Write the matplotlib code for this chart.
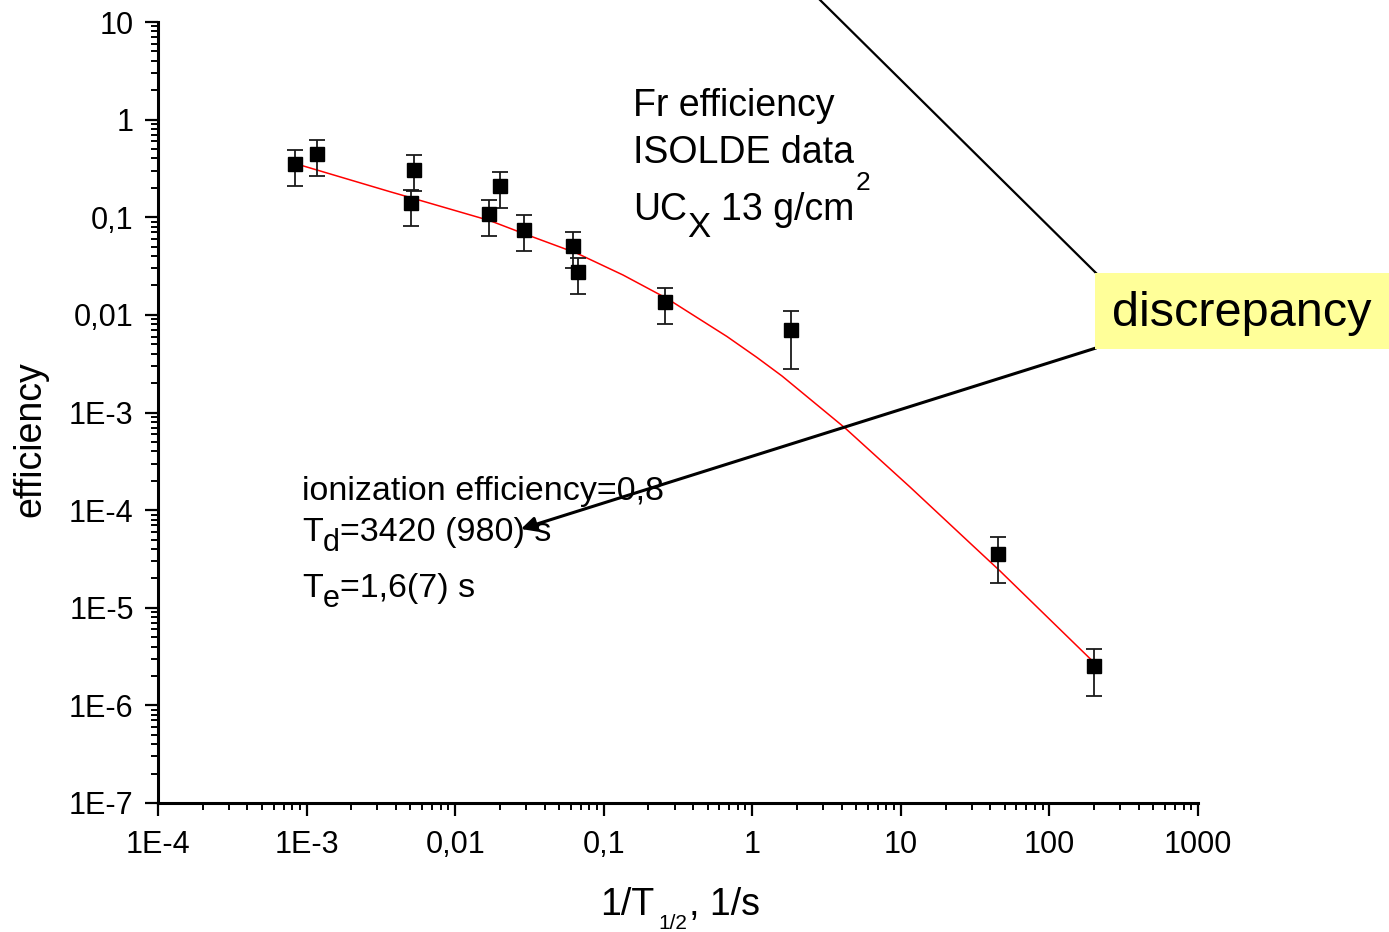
import matplotlib
matplotlib.use("Agg")
import matplotlib.pyplot as plt
from matplotlib.patches import Rectangle, FancyArrowPatch
from matplotlib.lines import Line2D

# ---- data ----
x_rate = [8.36e-4, 1.175e-3, 5.28e-3, 5.06e-3, 0.0169, 0.0200, 0.0290,
          0.0621, 0.0672, 0.259, 1.82, 45.1, 200.0]
eff = [0.351, 0.444, 0.305, 0.140, 0.108, 0.209, 0.074,
       0.0507, 0.0275, 0.0135, 0.00698, 3.54e-5, 2.52e-6]
eff_hi = [0.489, 0.618, 0.434, 0.192, 0.150, 0.290, 0.105,
          0.0705, 0.0382, 0.0188, 0.01093, 5.28e-5, 3.77e-6]
eff_lo = [0.209, 0.264, 0.185, 0.0818, 0.0642, 0.124, 0.045,
          0.0305, 0.0163, 0.00806, 0.00279, 1.78e-5, 1.24e-6]

fit_x = [8.36e-4, 3.642e-3, 5.204e-3, 0.01717, 0.02861, 0.06612, 0.1348, 0.2667,
         0.6758, 1.0757, 1.585, 4.21, 11.52, 29.2, 46.5, 199.5]
fit_y = [0.3553, 0.1827, 0.1563, 0.0922, 0.06848, 0.04273, 0.02562, 0.01471,
         0.006000, 0.003660, 0.002365, 6.94e-4, 1.725e-4, 4.60e-5, 2.38e-5, 2.75e-6]

x_ticks = [1e-4, 1e-3, 1e-2, 1e-1, 1, 10, 100, 1000]
x_labels = ['1E-4', '1E-3', '0,01', '0,1', '1', '10', '100', '1000']
y_ticks = [1e-7, 1e-6, 1e-5, 1e-4, 1e-3, 1e-2, 1e-1, 1, 10]
y_labels = ['1E-7', '1E-6', '1E-5', '1E-4', '1E-3', '0,01', '0,1', '1', '10']

plt.rcParams['font.family'] = ['Liberation Sans', 'DejaVu Sans']

W, H = 1389, 932
fig = plt.figure(figsize=(W / 100, H / 100), dpi=100)
L, R, T, B = 158, 1198, 22, 803
ax = fig.add_axes([L / W, 1 - B / H, (R - L) / W, (B - T) / H])
ax.set_xscale('log')
ax.set_yscale('log')
ax.set_xlim(1e-4, 1000)
ax.set_ylim(1e-7, 10)

ax.plot(fit_x, fit_y, color='red', lw=1.1, zorder=2, solid_joinstyle='round')
yerr = [[e - lo for e, lo in zip(eff, eff_lo)], [hi - e for e, hi in zip(eff, eff_hi)]]
ax.errorbar(x_rate, eff, yerr=yerr, fmt='s', color='black', ms=10.5,
            ecolor='#1a1a1a', elinewidth=1.3, capsize=5.5, capthick=1.3, zorder=3)

for s in ['top', 'right']:
    ax.spines[s].set_visible(False)
for s in ['left', 'bottom']:
    ax.spines[s].set_linewidth(2.2)

ax.set_xticks(x_ticks)
ax.set_xticklabels(x_labels)
ax.set_yticks(y_ticks)
ax.set_yticklabels(y_labels)
ax.tick_params(which='major', direction='out', length=9.5, width=1.6, labelsize=22)
ax.tick_params(which='minor', direction='out', length=5, width=1.4)
ax.tick_params(axis='x', which='major', pad=10)
ax.tick_params(axis='y', which='major', pad=8)
ax.xaxis.set_minor_locator(matplotlib.ticker.LogLocator(base=10, subs=range(2, 10), numticks=20))
ax.yaxis.set_minor_locator(matplotlib.ticker.LogLocator(base=10, subs=range(2, 10), numticks=20))
ax.xaxis.set_minor_formatter(matplotlib.ticker.NullFormatter())
ax.yaxis.set_minor_formatter(matplotlib.ticker.NullFormatter())


def fx(px):
    return px / W


def fy(py):
    return 1 - py / H


fig.canvas.draw()
renderer = fig.canvas.get_renderer()


def seq(parts, x, y):
    """parts: (text, fontsize, dy_px, gap_px)"""
    for text, size, dy, gap in parts:
        x += gap
        t = fig.text(fx(x), fy(y + dy), text, fontsize=size, va='baseline', ha='left')
        bb = t.get_window_extent(renderer)
        x += bb.width


# y label
fig.text(fx(30), fy(439), 'efficiency', rotation=90, fontsize=27, ha='center', va='center')
# x label
seq([('1/T', 27, 0, 0), ('1/2', 15, 14, 4), (', 1/s', 27, 0, 2)], 600, 915)

# Info text
fig.text(fx(633), fy(116), 'Fr efficiency', fontsize=27, va='baseline')
fig.text(fx(633), fy(163), 'ISOLDE data', fontsize=27, va='baseline')
seq([('UC', 27, 0, 0), ('X', 25, 17, 0), ('13 g/cm', 27, 0, 11), ('2', 19, -30, 1)], 633, 220)

fig.text(fx(302), fy(500), 'ionization efficiency=0,8', fontsize=24.5, va='baseline')
seq([('T', 24.5, 0, 0), ('d', 22, 10, 0), ('=3420 (980) s', 24.5, 0, 0)], 302, 541)
seq([('T', 24.5, 0, 0), ('e', 22, 10, 0), ('=1,6(7) s', 24.5, 0, 0)], 302, 597)

# discrepancy box
box = Rectangle((fx(1095), fy(349)), fx(1389) - fx(1095), fy(273) - fy(349),
                transform=fig.transFigure, facecolor='#FFFF99', edgecolor='none', zorder=5)
fig.add_artist(box)
fig.text(fx(1242), fy(314), 'discrepancy', fontsize=35, ha='center', va='center', zorder=6)

# callout line to top
fig.add_artist(Line2D([fx(816), fx(1096)], [fy(-4), fy(273)], transform=fig.transFigure,
                      color='black', lw=1.6, zorder=4))
# arrow
arr = FancyArrowPatch((fx(1096), fy(348)), (fx(521), fy(529)), transform=fig.transFigure,
                      arrowstyle='-|>', mutation_scale=22, lw=2.2, color='black', zorder=4,
                      shrinkA=0, shrinkB=0)
fig.add_artist(arr)

fig.savefig('out.png', dpi=100)
